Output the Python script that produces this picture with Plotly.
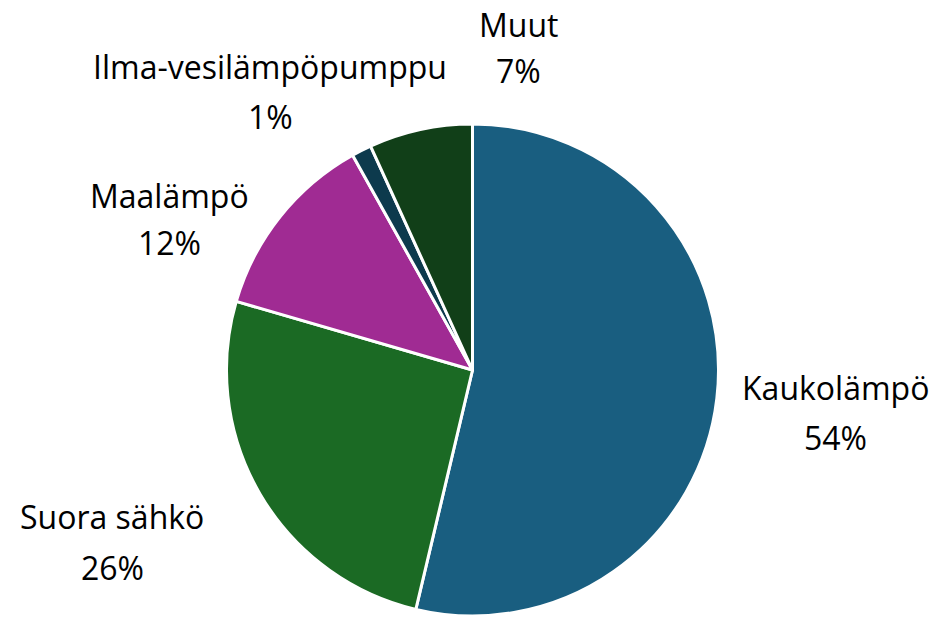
import plotly.graph_objects as go

labels = ["Kaukolämpö", "Suora sähkö", "Maalämpö", "Ilma-vesilämpöpumppu", "Muut"]
values = [53.7, 25.8, 12.4, 1.3, 6.8]
colors = ["#195e80", "#1b6a24", "#a02b93", "#0d3a4d", "#113f18"]

W, H = 948, 618
OFF = 8  # page body margin offset in px

# label placement in window pixels: (x center, name line y, percent line y) - layout only
label_px = [(835, 387, 438), (112, 516, 567), (169, 196, 242), (270, 66, 117), (518, 24, 71)]

FONT = "Open Sans, Liberation Sans, sans-serif"


def px_x(x):
    return (x - OFF) / W


def px_y(y):
    return 1 - (y - OFF) / H


# pie geometry in window pixels
cx, cy, r = 472.5, 370, 246

fig = go.Figure(go.Pie(
    labels=labels,
    values=values,
    sort=False,
    direction="clockwise",
    rotation=0,
    marker=dict(colors=colors, line=dict(color="white", width=3)),
    textinfo="none",
    domain=dict(x=[px_x(cx - r), px_x(cx + r)], y=[px_y(cy + r), px_y(cy - r)]),
    showlegend=False,
    hoverinfo="label+percent",
))

total = sum(values)
for lab, val, (lx, ly1, ly2) in zip(labels, values, label_px):
    for txt, ly in ((lab, ly1), (f"{round(100 * val / total)}%", ly2)):
        fig.add_annotation(
            x=px_x(lx), y=px_y(ly), xref="paper", yref="paper",
            text=txt, showarrow=False, align="center",
            xanchor="center", yanchor="middle",
            font=dict(family=FONT, size=32, color="#000000"),
        )

fig.update_layout(
    width=W, height=H,
    margin=dict(l=0, r=0, t=0, b=0),
    paper_bgcolor="white",
    plot_bgcolor="white",
)

fig.write_html("out.html")
